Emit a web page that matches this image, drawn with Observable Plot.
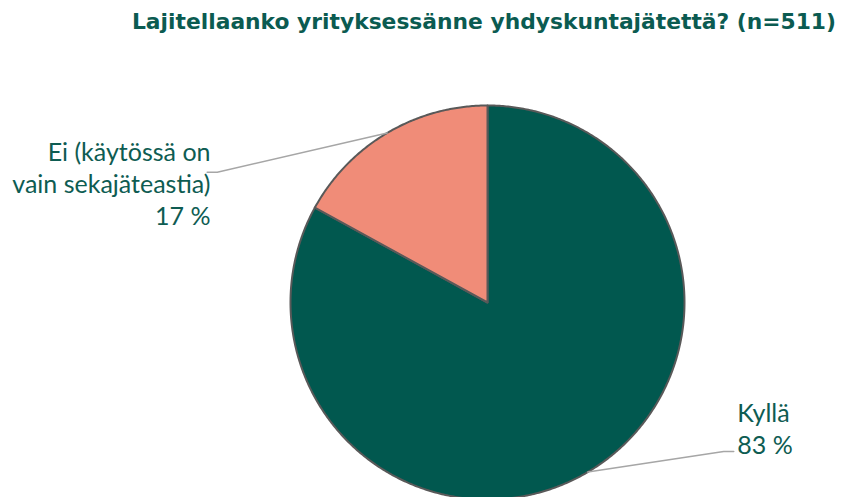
<!DOCTYPE html>
<html><head><meta charset="utf-8">
<script src="https://cdn.jsdelivr.net/npm/d3@7"></script>
<script src="https://cdn.jsdelivr.net/npm/@observablehq/plot@0.6"></script>
<style>
body{margin:0;background:#fff;width:849px;height:497px;overflow:hidden}
#title{height:44px;line-height:44px;text-align:right;padding-right:13px;font-family:"DejaVu Sans",sans-serif;font-weight:bold;font-size:21.8px;color:#0b5b51;white-space:nowrap}
#chart svg{display:block}
</style></head><body>
<div id="title">Lajitellaanko yrityksessänne yhdyskuntajätettä? (n=511)</div>
<div id="chart"></div>
<script>
const categories = ["Kyllä", "Ei (käytössä on\nvain sekajäteastia)"];
const values = [83, 17];
const percentLabels = ["83 %", "17 %"];
const colors = ["#01584F", "#F08C78"];

// label layout in unit-circle coordinates (radius = 1)
const labelLayout = [
  {elbow: [1.199, -0.756], end: [1.250, -0.756], text: [1.268, -0.636], anchor: "start"},
  {elbow: [-1.372, 0.661], end: [-1.423, 0.661], text: [-1.406, 0.609], anchor: "end"}
];

const arcs = d3.pie().sort(null).value(d => d)(values);

const slicePts = [];
arcs.forEach((a, i) => {
  slicePts.push({slice: categories[i], x: 0, y: 0});
  const n = Math.max(2, Math.ceil((a.endAngle - a.startAngle) / (Math.PI / 360)));
  for (let k = 0; k <= n; k++) {
    const t = a.startAngle + (a.endAngle - a.startAngle) * k / n;
    slicePts.push({slice: categories[i], x: Math.sin(t), y: Math.cos(t)});
  }
  slicePts.push({slice: categories[i], x: 0, y: 0});
});

const leaderPts = [];
arcs.forEach((a, i) => {
  const m = (a.startAngle + a.endAngle) / 2;
  const L = labelLayout[i];
  leaderPts.push({k: i, x: Math.sin(m), y: Math.cos(m)});
  leaderPts.push({k: i, x: L.elbow[0], y: L.elbow[1]});
  leaderPts.push({k: i, x: L.end[0], y: L.end[1]});
});

const labels = categories.map((c, i) => ({
  text: c + "\n" + percentLabels[i],
  x: labelLayout[i].text[0], y: labelLayout[i].text[1], anchor: labelLayout[i].anchor
}));

const cx = 487, cy = 258, r = 197;
const textOpts = {x: "x", y: "y", text: "text", lineAnchor: "middle", lineHeight: 1.28, fontSize: 25, fill: "#0e5c52", fontFamily: "Lato"};
const chart = Plot.plot({
  width: 849, height: 453, margin: 0,
  x: {domain: [-1, 1], range: [cx - r, cx + r], axis: null},
  y: {domain: [-1, 1], range: [cy + r, cy - r], axis: null},
  color: {domain: categories, range: colors},
  marks: [
    Plot.line(slicePts, {x: "x", y: "y", z: "slice", fill: "slice", stroke: "#595959", strokeWidth: 2, strokeLinejoin: "round"}),
    Plot.line(leaderPts, {x: "x", y: "y", z: "k", stroke: "#a6a6a6", strokeWidth: 1.5}),
    Plot.text(labels.filter(d => d.anchor === "start"), {...textOpts, textAnchor: "start"}),
    Plot.text(labels.filter(d => d.anchor === "end"), {...textOpts, textAnchor: "end"})
  ]
});
document.getElementById("chart").appendChild(chart);
</script>
</body></html>
